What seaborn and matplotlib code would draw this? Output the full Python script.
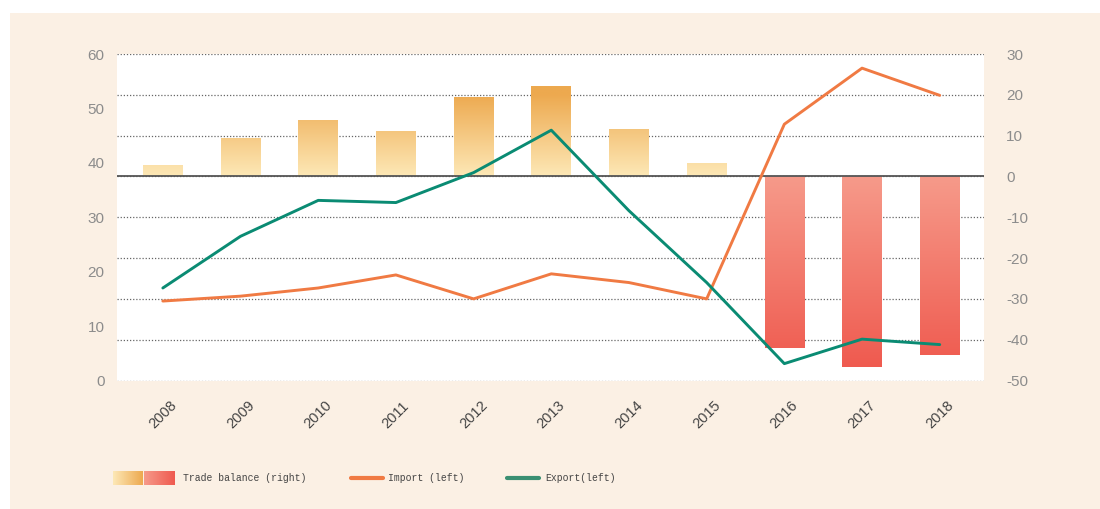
import matplotlib
matplotlib.use("Agg")
import matplotlib.pyplot as plt
from matplotlib.colors import LinearSegmentedColormap, Normalize
from matplotlib.lines import Line2D
from matplotlib.patches import Rectangle
import numpy as np
import pandas as pd
import seaborn as sns

# values
years = ["2008", "2009", "2010", "2011", "2012", "2013",
         "2014", "2015", "2016", "2017", "2018"]
trade_balance = [2.7, 9.4, 13.8, 11.1, 19.5, 22.2, 11.6, 3.2, -42.0, -46.7, -43.8]
imports = [14.6, 15.5, 17.0, 19.4, 15.0, 19.6, 18.0, 15.0, 47.1, 57.4, 52.4]
exports = [17.0, 26.5, 33.1, 32.7, 38.2, 46.0, 31.2, 18.0, 3.1, 7.6, 6.6]
left_ticks = [0, 10, 20, 30, 40, 50, 60]
right_ticks = [30, 20, 10, 0, -10, -20, -30, -40, -50]

CREAM = "#FBF0E4"
ORANGE = "#F07A43"
GREEN = "#0A8B73"
pos_cmap = LinearSegmentedColormap.from_list("pos", ["#FDE8B6", "#EDA94F"])
neg_cmap = LinearSegmentedColormap.from_list("neg", ["#EF5A4F", "#F69A8A"])
pos_norm = Normalize(0, 20, clip=True)
neg_norm = Normalize(-47, 0, clip=True)

df = pd.DataFrame({"year": years, "balance": trade_balance,
                   "pos": np.arange(len(years)), "import": imports, "export": exports})

sns.set_style("white")
plt.rcParams["font.family"] = ["Liberation Sans", "DejaVu Sans"]

fig = plt.figure(figsize=(11, 5.09), dpi=100, facecolor="white")
fig.patches.append(Rectangle((10 / 1100, 0), 1, 1 - 13 / 509, transform=fig.transFigure,
                             facecolor=CREAM, edgecolor="none", zorder=-10))
ax = fig.add_axes([117 / 1100, 1 - 380.5 / 509, 867 / 1100, 326.5 / 509])
ax.set_facecolor("white")

# bars on the right-hand scale
sns.barplot(data=df, x="year", y="balance", order=years, width=0.51,
            color="white", ax=ax, zorder=2)
for patch, val in zip(ax.patches, trade_balance):
    x0, y0 = patch.get_x(), patch.get_y()
    w, h = patch.get_width(), patch.get_height()
    lo, hi = min(y0, y0 + h), max(y0, y0 + h)
    grad = np.linspace(lo, hi, 200).reshape(-1, 1)
    cmap, norm = (pos_cmap, pos_norm) if val >= 0 else (neg_cmap, neg_norm)
    patch.set_facecolor("none")
    patch.set_edgecolor("none")
    im = ax.imshow(grad, cmap=cmap, norm=norm, origin="lower", aspect="auto",
                   extent=(x0, x0 + w, lo, hi), zorder=2)
    im.set_clip_path(patch)

ax.set_xlim(-0.59, 10.57)
ax.set_ylim(-50, 30)
ax.set_axisbelow(True)
ax.grid(axis="y", linestyle=(0, (1, 1.5)), color="#666666", linewidth=0.9)
ax.axhline(0, color="#555555", linewidth=1.3, zorder=3)
ax.set_xlabel("")
ax.set_ylabel("")
for s in ax.spines.values():
    s.set_visible(False)

# lines on the left-hand scale
ax2 = ax.twinx()
sns.lineplot(data=df, x="pos", y="import", color=ORANGE, linewidth=2.1, ax=ax2)
sns.lineplot(data=df, x="pos", y="export", color=GREEN, linewidth=2.1, ax=ax2)
ax2.set_ylim(0, 60)
ax2.yaxis.tick_left()
ax2.set_yticks(left_ticks)
ax2.set_ylabel("")
ax2.tick_params(axis="y", length=0, pad=9, labelsize=11, labelcolor="#8c8c8c")
ax2.grid(False)
for s in ax2.spines.values():
    s.set_visible(False)

# the bar axis keeps its ticks on the right (twinx resets them)
ax.yaxis.tick_right()
ax.set_yticks(right_ticks)
ax.set_yticklabels([str(t) for t in right_ticks])
ax.tick_params(axis="y", length=0, pad=16, labelsize=11, labelcolor="#8c8c8c")
ax.tick_params(axis="x", length=0, pad=13, labelsize=10.5, labelcolor="#444444")
ax.set_xticks(range(len(years)))
ax.set_xticklabels(years, rotation=45)

# legend drawn under the plot
sw1 = fig.add_axes([113 / 1100, 1 - 485 / 509, 30 / 1100, 14 / 509])
sw1.imshow(np.linspace(0, 20, 100).reshape(1, -1), cmap=pos_cmap, norm=pos_norm, aspect="auto")
sw2 = fig.add_axes([144 / 1100, 1 - 485 / 509, 30 / 1100, 14 / 509])
sw2.imshow(np.linspace(0, -47, 100).reshape(1, -1), cmap=neg_cmap, norm=neg_norm, aspect="auto")
for sw in (sw1, sw2):
    sw.set_axis_off()

ly = 1 - 478 / 509
fig.lines.append(Line2D([351 / 1100, 383 / 1100], [ly, ly], transform=fig.transFigure,
                        color=ORANGE, linewidth=3, solid_capstyle="round"))
fig.lines.append(Line2D([507 / 1100, 539 / 1100], [ly, ly], transform=fig.transFigure,
                        color="#3A8F72", linewidth=3, solid_capstyle="round"))
legend_font = dict(family=["Liberation Mono", "DejaVu Sans Mono"], fontsize=7,
                   color="#444444", va="center")
fig.text(183 / 1100, ly, "Trade balance (right)", **legend_font)
fig.text(388 / 1100, ly, "Import (left)", **legend_font)
fig.text(545 / 1100, ly, "Export(left)", **legend_font)

fig.savefig("out.png", dpi=100, facecolor=fig.get_facecolor())
